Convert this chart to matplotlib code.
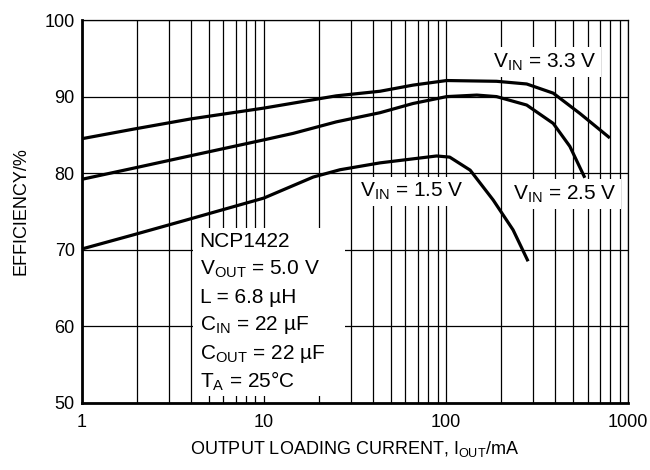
import numpy as np
import matplotlib.pyplot as plt
from matplotlib.patches import Rectangle

plt.rcParams['font.family'] = ['Liberation Sans', 'DejaVu Sans']
plt.rcParams['mathtext.default'] = 'regular'

# efficiency curves
x_33 = [1, 1.92, 4, 10, 25, 43.5, 66, 101, 190, 278, 389, 545, 796]
y_33 = [84.5, 85.75, 87.1, 88.5, 90.1, 90.7, 91.5, 92.1, 92.0, 91.65, 90.45, 87.8, 84.6]

x_25 = [1, 1.92, 4, 10, 14.5, 25, 43.5, 66, 101, 148, 190, 278, 389, 480, 580]
y_25 = [79.2, 80.65, 82.3, 84.35, 85.2, 86.7, 87.9, 89.1, 90.0, 90.2, 90.0, 88.9, 86.5, 83.5, 79.4]

x_15 = [1, 1.92, 3.77, 10, 18.7, 26.2, 43.5, 89, 105, 136, 182, 234, 283]
y_15 = [70.1, 71.95, 73.9, 76.75, 79.5, 80.45, 81.35, 82.25, 82.1, 80.4, 76.5, 72.6, 68.5]

x_ticks = [1, 10, 100, 1000]
y_ticks = [50, 60, 70, 80, 90, 100]

cond_lines = ['NCP1422', 'V$_{OUT}$ = 5.0 V', 'L = 6.8 \u00b5H', 'C$_{IN}$ = 22 \u00b5F',
              'C$_{OUT}$ = 22 \u00b5F', 'T$_{A}$ = 25\u00b0C']

fig = plt.figure(figsize=(6.5, 4.7), dpi=100)
ax = fig.add_axes([0.1257, 0.1426, 0.8403, 0.8148])

ax.set_xscale('log')
ax.set_xlim(1, 1000)
ax.set_ylim(50, 100)

# grid: every decade and minor
ax.grid(True, which='both', axis='x', color='black', linewidth=0.9, zorder=0)
ax.grid(True, which='major', axis='y', color='black', linewidth=0.9, zorder=0)
ax.set_axisbelow(True)

lw = 2.3
ax.plot(x_33, y_33, color='black', linewidth=lw, zorder=3, solid_capstyle='butt')
ax.plot(x_25, y_25, color='black', linewidth=lw, zorder=3, solid_capstyle='butt')
ax.plot(x_15, y_15, color='black', linewidth=lw, zorder=3, solid_capstyle='butt')

ax.set_xticks(x_ticks)
ax.set_xticklabels([str(v) for v in x_ticks])
ax.set_yticks(y_ticks)
ax.set_yticklabels([str(v) for v in y_ticks])
ax.tick_params(which='both', length=0, labelsize=13, pad=8)
ax.tick_params(axis='y', pad=5)

for s in ['left', 'bottom']:
    ax.spines[s].set_linewidth(2.0)
for s in ['top', 'right']:
    ax.spines[s].set_linewidth(0.9)

ax.set_xlabel('OUTPUT LOADING CURRENT, I$_{OUT}$/mA', fontsize=13, labelpad=6)
ax.set_ylabel('EFFICIENCY/%', fontsize=13, labelpad=11)

# white background for the condition block
ax.add_patch(Rectangle((0.204, 0.018), 0.278, 0.44, transform=ax.transAxes,
                       facecolor='white', edgecolor='none', zorder=1))
for i, t in enumerate(cond_lines):
    ax.text(4.45, 71.1 - i * 3.66, t, fontsize=15, va='center', ha='left', zorder=2)

box = dict(facecolor='white', edgecolor='none', pad=3)
ax.text(181, 94.5, 'V$_{IN}$ = 3.3 V', fontsize=15, va='center', ha='left', bbox=box, zorder=2)
ax.text(33.8, 77.6, 'V$_{IN}$ = 1.5 V', fontsize=15, va='center', ha='left', bbox=box, zorder=2)
ax.text(234, 77.3, 'V$_{IN}$ = 2.5 V', fontsize=15, va='center', ha='left', bbox=box, zorder=2)

fig.savefig('out.png', dpi=100)
